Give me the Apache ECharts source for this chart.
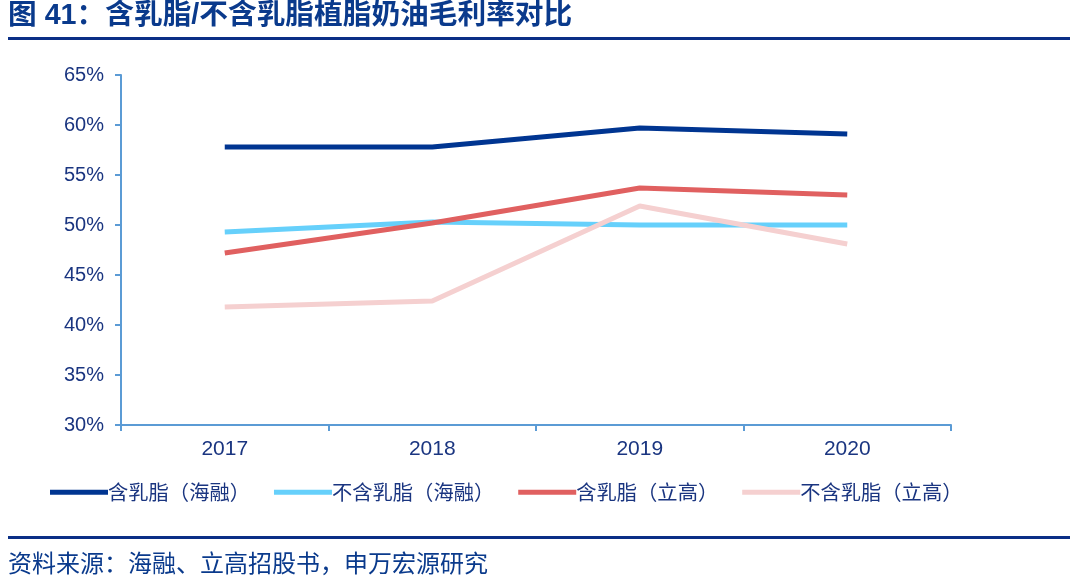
<!DOCTYPE html>
<html><head><meta charset="utf-8">
<script src="https://cdn.jsdelivr.net/npm/echarts@6/dist/echarts.min.js"></script>
<style>html,body{margin:0;padding:0;background:#fff;}#c{width:1070px;height:585px;}</style>
</head><body><div id="c"></div>
<script>
const categories = ['2017','2018','2019','2020'];
const seriesNames = ['含乳脂（海融）','不含乳脂（海融）','含乳脂（立高）','不含乳脂（立高）'];
const hairongDairy = [57.8, 57.8, 59.7, 59.1];
const hairongNonDairy = [49.3, 50.3, 50.0, 50.0];
const ligaoDairy = [47.2, 50.2, 53.7, 53.0];
const ligaoNonDairy = [41.8, 42.4, 51.9, 48.1];
const colors = ['#003591','#66d0fb','#e06060','#f5d0d0'];
const dataSets = [hairongDairy, hairongNonDairy, ligaoDairy, ligaoNonDairy];
const FONT = '"Liberation Sans","Noto Sans CJK SC",sans-serif';
const chart = echarts.init(document.getElementById('c'));
chart.setOption({
  animation:false,
  textStyle:{fontFamily:FONT},
  graphic:[
    {type:'text',left:8,top:2,style:{text:'图 41：含乳脂/不含乳脂植脂奶油毛利率对比',font:'bold 28.7px "Liberation Sans","Noto Sans CJK SC",sans-serif',fill:'#0a3a8c'}},
    {type:'rect',shape:{x:8,y:37,width:1062,height:3},style:{fill:'#0a2f86'}},
    {type:'rect',shape:{x:8,y:536,width:1062,height:3},style:{fill:'#0a2f86'}},
    {type:'text',left:8,top:551,style:{text:'资料来源：海融、立高招股书，申万宏源研究',font:'24px "Noto Sans CJK SC",sans-serif',fill:'#0a3a8c'}}
  ],
  grid:{left:121,right:119,top:75,bottom:160},
  legend:{
    top:477,left:45,itemWidth:58,itemHeight:5,itemGap:24,icon:'rect',
    textStyle:{fontSize:20.3,color:'#1a3580',fontFamily:'"Noto Sans CJK SC",sans-serif',padding:[0,0,0,-5]},
    data:seriesNames
  },
  xAxis:{
    type:'category',data:categories,boundaryGap:true,
    axisLine:{lineStyle:{color:'#5b9bd5',width:2}},
    axisTick:{show:true,length:6,lineStyle:{color:'#5b9bd5',width:2}},
    axisLabel:{fontSize:21,color:'#1a3580',margin:14}
  },
  yAxis:{
    type:'value',min:30,max:65,interval:5,
    axisLine:{show:true,lineStyle:{color:'#5b9bd5',width:2}},
    axisTick:{show:true,length:6,lineStyle:{color:'#5b9bd5',width:2}},
    splitLine:{show:false},
    axisLabel:{fontSize:20,color:'#1a3580',margin:17,formatter:v=>v+'%'}
  },
  series:dataSets.map((d,i)=>({
    name:seriesNames[i],type:'line',data:d,symbol:'none',
    lineStyle:{width:5,color:colors[i]},itemStyle:{color:colors[i]}
  }))
});
</script></body></html>
